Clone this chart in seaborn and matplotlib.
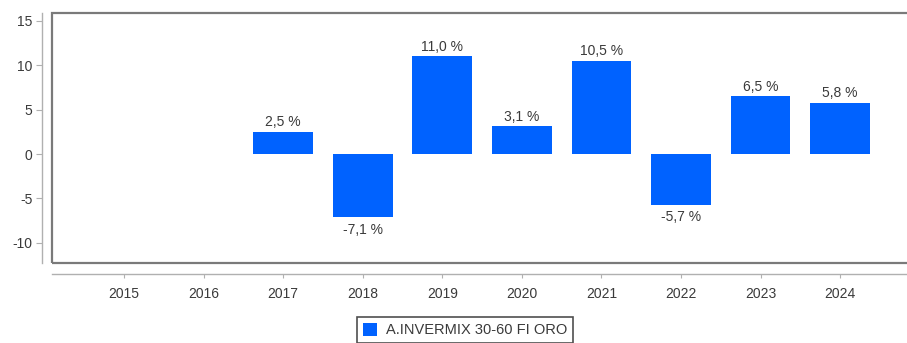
import matplotlib
matplotlib.use("Agg")
import matplotlib.pyplot as plt
from matplotlib.patches import Rectangle
import numpy as np
import pandas as pd
import seaborn as sns

years = ["2015", "2016", "2017", "2018", "2019", "2020", "2021", "2022", "2023", "2024"]
returns = [np.nan, np.nan, 2.5, -7.1, 11.0, 3.1, 10.5, -5.7, 6.5, 5.8]
fund_name = "A.INVERMIX 30-60 FI ORO"
y_ticks = [-10, -5, 0, 5, 10, 15]

bar_color = "#0062FF"
text_color = "#3a3a3a"
frame_color = "#7a7a7a"

sns.set_style("white")
plt.rcParams["font.family"] = ["Liberation Sans", "DejaVu Sans"]
plt.rcParams["axes.unicode_minus"] = False

df = pd.DataFrame({"year": years, "value": returns, "fund": fund_name})

fig = plt.figure(figsize=(9.07, 3.43), dpi=100)
ax = fig.add_axes([52 / 907, 1 - 263 / 343, 1 - 52 / 907, 250 / 343])

sns.barplot(data=df, x="year", y="value", hue="fund", order=years,
            palette=[bar_color], saturation=1, width=0.75, ax=ax,
            legend=False, edgecolor="none")

ax.set_xlim(-0.905, 9.84)
ax.set_ylim(-12.27, 15.88)
ax.set_yticks(y_ticks)
ax.set_xlabel("")
ax.set_ylabel("")

# value labels above positive bars, below negative bars
for patch in ax.patches:
    h = patch.get_height()
    if np.isnan(h) or patch.get_width() == 0:
        continue
    label = f"{h:.1f}".replace(".", ",") + " %"
    xc = patch.get_x() + patch.get_width() / 2
    if h >= 0:
        ax.annotate(label, (xc, h), xytext=(0, 2), textcoords="offset points",
                    ha="center", va="bottom", fontsize=10, color=text_color)
    else:
        ax.annotate(label, (xc, h), xytext=(0, -4), textcoords="offset points",
                    ha="center", va="top", fontsize=10, color=text_color)

# detached axis lines
for side in ["top", "right"]:
    ax.spines[side].set_visible(False)
ax.spines["left"].set_position(("outward", 7))
ax.spines["bottom"].set_position(("outward", 8))
ax.spines["left"].set_color("#b0b0b0")
ax.spines["bottom"].set_color("#b0b0b0")
ax.spines["left"].set_linewidth(1.0)
ax.spines["bottom"].set_linewidth(1.0)

ax.tick_params(axis="y", which="major", direction="out", length=4, width=0.8,
               color="#b0b0b0", labelsize=10, labelcolor=text_color, pad=3, left=True)
ax.tick_params(axis="x", which="major", direction="out", length=3, width=0.8,
               color="#b0b0b0", labelsize=10, labelcolor=text_color, pad=6, bottom=True)

# plot frame, open past the right edge of the figure
ax.add_patch(Rectangle((0, 0), 1.02, 1, transform=ax.transAxes, fill=False,
                       edgecolor=frame_color, linewidth=1.6, clip_on=False, zorder=5))

handles = [Rectangle((0, 0), 1, 1, facecolor=bar_color, edgecolor="none")]
leg = fig.legend(handles, [fund_name], loc="upper center",
                 bbox_to_anchor=(465 / 907, 1 - 317 / 343), frameon=True,
                 fancybox=False, edgecolor="#222222", fontsize=10.5,
                 handlelength=1.0, handleheight=1.0, handletextpad=0.6,
                 borderpad=0.4, borderaxespad=0)
for t in leg.get_texts():
    t.set_color(text_color)
leg.get_frame().set_linewidth(1.2)

fig.savefig("out.png", dpi=100)
